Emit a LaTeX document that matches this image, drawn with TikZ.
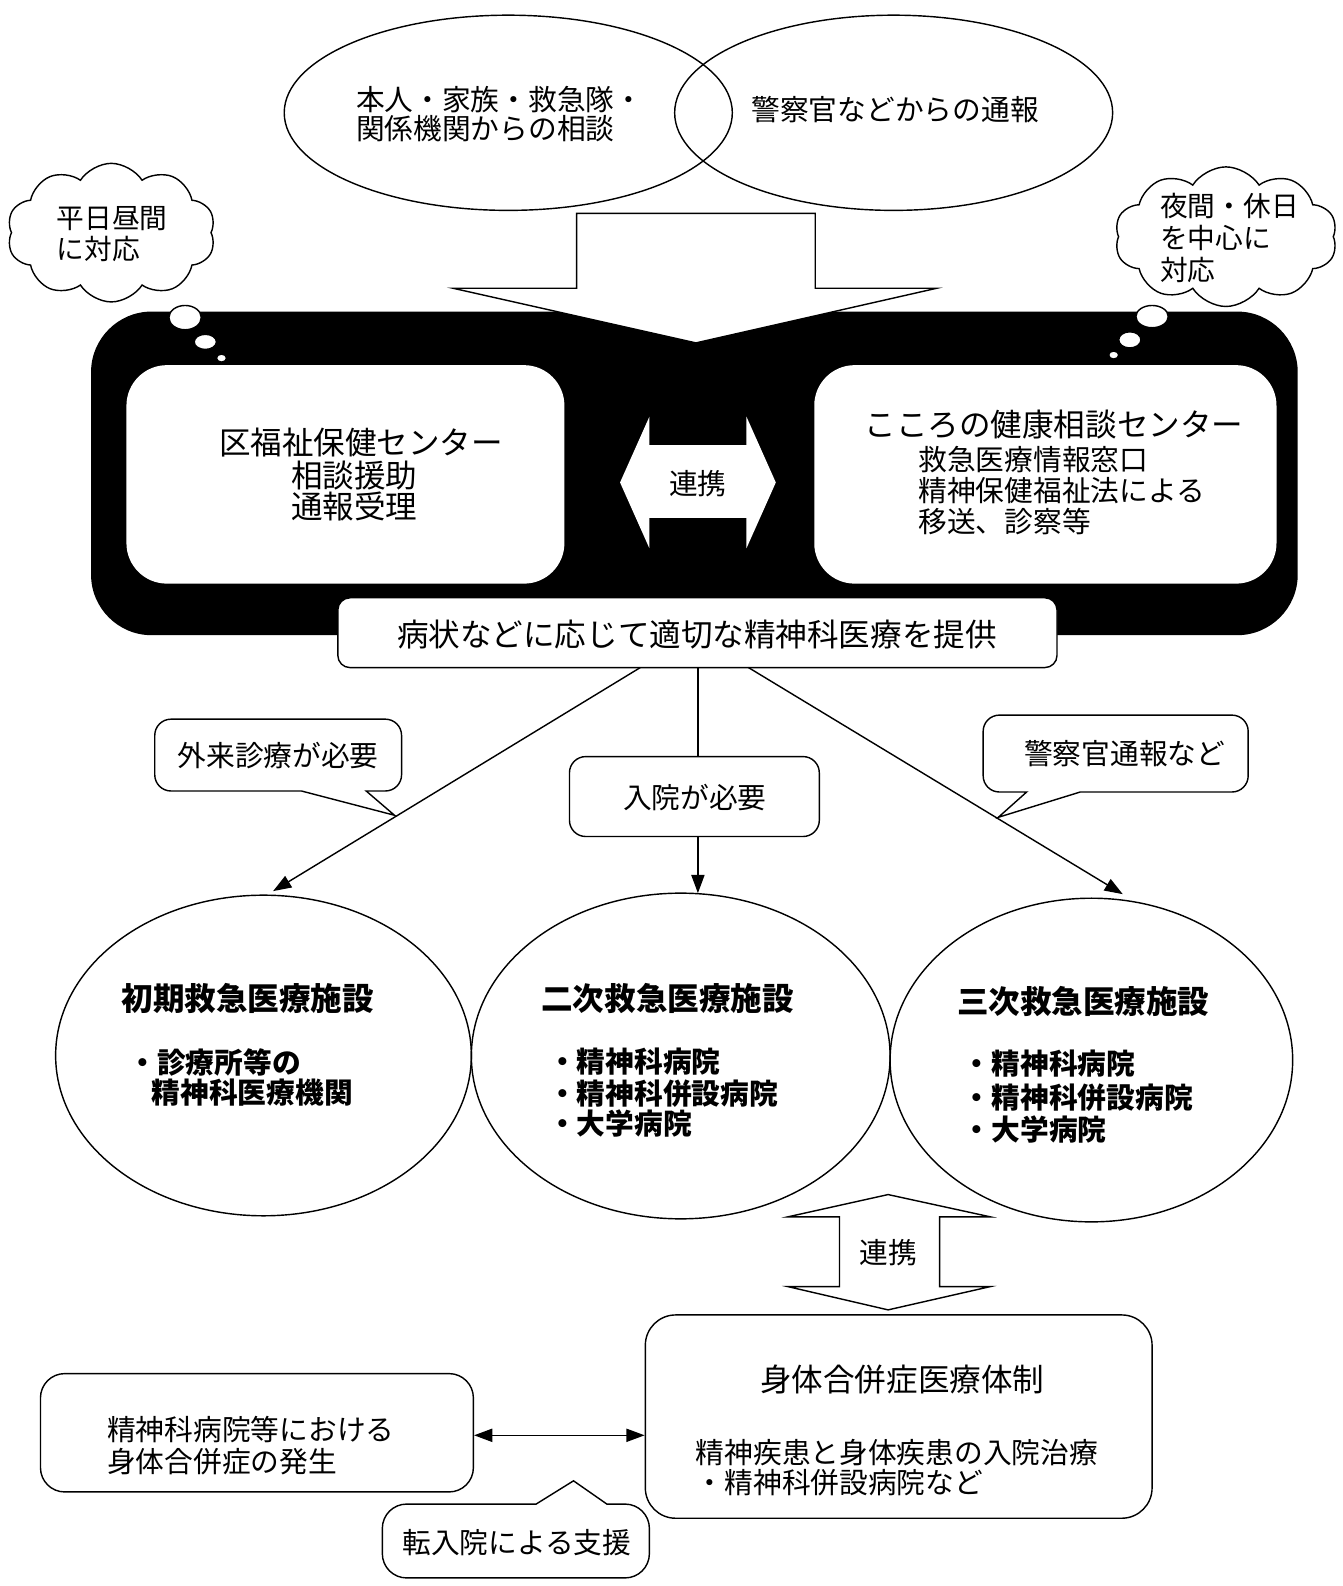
\documentclass[tikz,border=0pt]{standalone}
\usepackage{fontspec}
\setmainfont{Noto Sans CJK JP}
\usetikzlibrary{shapes.geometric,shapes.symbols,arrows.meta}
\newcommand\txs{\fontsize{14.2}{15}\selectfont}
\newcommand\txb{\fontsize{15.6}{17}\selectfont}
\newcommand\txc{\fontsize{13.7}{15}\selectfont}
\begin{document}
\begin{tikzpicture}[x=0.5pt,y=-0.5pt,line width=0.7pt,
  sm/.style={inner sep=0pt,outer sep=0pt,font=\txs},
  bg/.style={inner sep=0pt,outer sep=0pt,font=\txb},
  cl/.style={inner sep=0pt,outer sep=0pt,font=\txc},
  bsm/.style={inner sep=0pt,outer sep=0pt,font=\txs\bfseries},
  bbg/.style={inner sep=0pt,outer sep=0pt,font=\txb\bfseries},
  oval/.style={ellipse,draw,inner sep=0pt},
  rbox/.style={draw,fill=white,inner sep=0pt},
  arr/.style={-{Triangle[length=9pt,width=6.5pt]}},
  darr/.style={{Triangle[length=9pt,width=6.5pt]}-{Triangle[length=9pt,width=6.5pt]}},
  bubble/.style={cloud,cloud puffs=10,cloud puff arc=115,cloud ignores aspect,draw,fill=white,inner sep=0pt},
  dot/.style={ellipse,draw,fill=white,inner sep=0pt},
]
\useasboundingbox (0,0) rectangle (1327,1568);
\fill[white] (0,0) rectangle (1327,1568);

% top ellipses
\node[oval,minimum width=221.5pt,minimum height=96.5pt] (e1) at (502.5,111.5) {};
\node[oval,minimum width=216.5pt,minimum height=96.5pt] (e2) at (883.5,111.5) {};
\node[sm,anchor=west] (e1a) at (352,98) {本人・家族・救急隊・};
\node[sm,anchor=west] (e1b) at (352,127) {関係機関からの相談};
\node[sm] (e2a) at (885,108) {警察官などからの通報};

% black band
\node[fill=black,rounded corners=30pt,minimum width=596.5pt,minimum height=160pt,inner sep=0pt] (band) at (686.5,468) {};

% down block arrow
\draw[fill=white] (570,211) -- (806,211) -- (806,285) -- (926,285) -- (688,339) -- (448,285) -- (570,285) -- cycle;

% inner white boxes
\node[fill=white,rounded corners=20pt,minimum width=216.5pt,minimum height=108pt,inner sep=0pt] (kbox) at (341.5,469) {};
\node[fill=white,rounded corners=20pt,minimum width=228.5pt,minimum height=108pt,inner sep=0pt] (cbox) at (1033.5,469) {};
\node[bg] (k1) at (357,438) {区福祉保健センター};
\node[bg,anchor=west] (k2) at (288,470) {相談援助};
\node[bg,anchor=west] (k3) at (288,501) {通報受理};
\node[bg] (c1t) at (1042,420) {こころの健康相談センター};
\node[sm,anchor=west] (c1a) at (908,454) {救急医療情報窓口};
\node[sm,anchor=west] (c1b) at (908,485) {精神保健福祉法による};
\node[sm,anchor=west] (c1c) at (908,516) {移送、診察等};

% horizontal double block arrow
\fill[white] (613,477) -- (642,412) -- (642,440) -- (738,440) -- (738,412) -- (767,477) -- (738,542) -- (738,512) -- (642,512) -- (642,542) -- cycle;
\node[sm] (ren1) at (690,478) {連携};

% bottom box of band
\node[rbox,rounded corners=6pt,minimum width=355.5pt,minimum height=34.5pt] (prov) at (689.5,625.5) {};
\node[bg] (provt) at (689,627) {病状などに応じて適切な精神科医療を提供};

% thought bubbles
\node[bubble,minimum width=103pt,minimum height=68.5pt] (cl1) at (110,230) {};
\node[cl,anchor=west] (cl1a) at (56,216) {平日昼間};
\node[cl,anchor=west] (cl1b) at (56,246) {に対応};
\node[dot,minimum width=16pt,minimum height=12pt] (d1) at (183,314) {};
\node[dot,minimum width=11pt,minimum height=7.5pt] (d2) at (203,338) {};
\node[dot,minimum width=5pt,minimum height=4pt] (d3) at (219,354) {};

\node[bubble,minimum width=110pt,minimum height=69pt] (cl2) at (1212,234) {};
\node[cl,anchor=west] (cl2a) at (1147,204) {夜間・休日};
\node[cl,anchor=west] (cl2b) at (1147,235) {を中心に};
\node[cl,anchor=west] (cl2c) at (1147,267) {対応};
\node[dot,minimum width=16pt,minimum height=11pt] (d4) at (1139,313) {};
\node[dot,minimum width=11pt,minimum height=8pt] (d5) at (1117,336) {};
\node[dot,minimum width=5pt,minimum height=4pt] (d6) at (1101,351) {};

% callouts
\draw[fill=white] (362,782) -- (390,806) -- (298,782) [rounded corners=8pt] -- (153,782) -- (153,711) -- (397,711) -- (397,782) [sharp corners] -- cycle;
\node[sm] (gai) at (275,747) {外来診療が必要};
\draw[fill=white] (1015,783) -- (987,808) -- (1068,783) [rounded corners=8pt] -- (1234,783) -- (1234,707) -- (972,707) -- (972,783) [sharp corners] -- cycle;
\node[sm] (kei) at (1112,745) {警察官通報など};
\node[rbox,rounded corners=8pt,minimum width=123.5pt,minimum height=39.5pt] (nyu) at (686.5,787.5) {};
\node[sm] (nyut) at (687,788) {入院が必要};

% connectors
\coordinate (a1s) at (633,660);
\coordinate (a1e) at (270,881);
\coordinate (a2s) at (690,660);
\coordinate (a2e) at (690,883);
\coordinate (a3s) at (740,660);
\coordinate (a3e) at (1110,884);
\draw[arr] (a1s) -- (a1e);
\draw (a2s) -- (a2s |- nyu.north);
\draw[arr] (a2s |- nyu.south) -- (a2e);
\draw[arr] (a3s) -- (a3e);

% big ellipses
\node[oval,minimum width=205.5pt,minimum height=158.5pt] (f1) at (260.5,1043.5) {};
\node[oval,minimum width=207pt,minimum height=161pt] (f2) at (673,1044) {};
\node[oval,minimum width=199pt,minimum height=160pt] (f3) at (1079,1048) {};
\node[bbg] (f1t) at (245,987) {初期救急医療施設};
\node[bsm,anchor=west] (f1a) at (127,1050) {・診療所等の};
\node[bsm,anchor=west] (f1b) at (150,1080) {精神科医療機関};
\node[bbg] (f2t) at (660,987) {二次救急医療施設};
\node[bsm,anchor=west] (f2a) at (542,1050) {・精神科病院};
\node[bsm,anchor=west] (f2b) at (542,1081) {・精神科併設病院};
\node[bsm,anchor=west] (f2c) at (542,1111) {・大学病院};
\node[bbg] (f3t) at (1071,990) {三次救急医療施設};
\node[bsm,anchor=west] (f3a) at (952,1052) {・精神科病院};
\node[bsm,anchor=west] (f3b) at (952,1085) {・精神科併設病院};
\node[bsm,anchor=west] (f3c) at (952,1117) {・大学病院};

% vertical double block arrow
\draw[fill=white] (878,1181) -- (979,1203) -- (929,1203) -- (929,1272) -- (979,1272) -- (878,1295) -- (779,1272) -- (830,1272) -- (830,1203) -- (779,1203) -- cycle;
\node[sm] (ren2) at (878,1238) {連携};

% bottom boxes
\node[rbox,rounded corners=15pt,minimum width=250.5pt,minimum height=100.5pt] (br) at (888.5,1400.5) {};
\node[bg] (brt) at (892,1364) {身体合併症医療体制};
\node[sm,anchor=west] (bra) at (688,1436) {精神疾患と身体疾患の入院治療};
\node[sm,anchor=west] (brb) at (688,1466) {・精神科併設病院など};

\node[rbox,rounded corners=12pt,minimum width=214pt,minimum height=58.5pt] (bl) at (254,1416.5) {};
\node[sm,anchor=west] (bla) at (106,1413) {精神科病院等における};
\node[sm,anchor=west] (blb) at (106,1445) {身体合併症の発生};

\coordinate (da) at (0,1419);
\draw[darr] (bl.east |- da) -- (br.west |- da);

% bottom callout
\draw[fill=white] (600,1487) -- (567,1464) -- (530,1487) [rounded corners=12pt] -- (378,1487) -- (378,1560) -- (642,1560) -- (642,1487) [sharp corners] -- cycle;
\node[sm] (ten) at (511,1525) {転入院による支援};
\end{tikzpicture}
\end{document}
